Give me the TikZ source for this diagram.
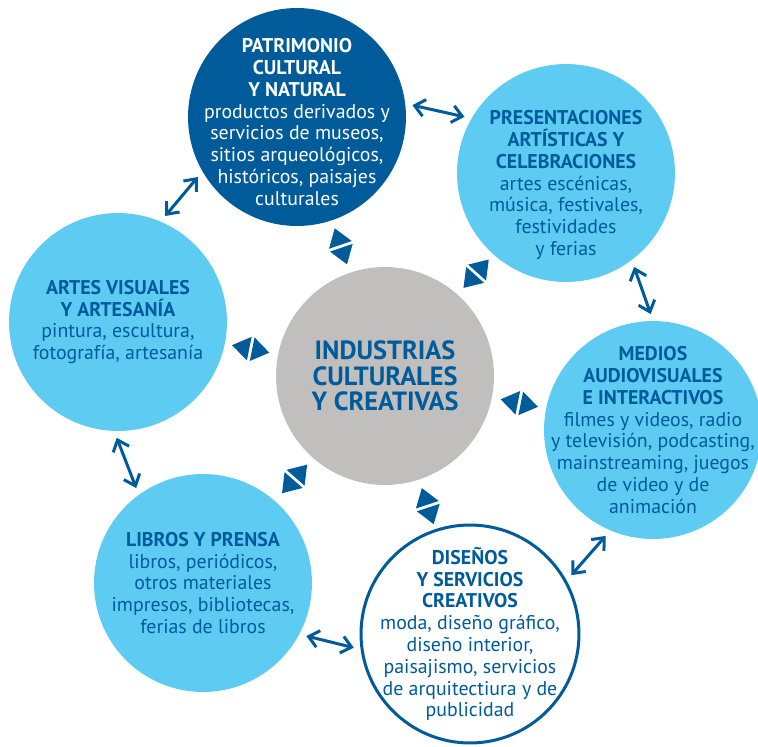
\documentclass[tikz,border=0pt]{standalone}
\usepackage{fontspec}
\setmainfont{PT Sans}
\usetikzlibrary{arrows.meta}
\definecolor{deepblue}{RGB}{0,91,155}
\definecolor{skyblue}{RGB}{94,203,243}
\definecolor{stone}{RGB}{192,191,190}
\newcommand*{\hd}[1]{\textbf{#1}}
\newcommand*{\linkmark}[1]{%
    \begin{scope}[shift={(cic.center)}, rotate=#1]
        \fill [deepblue] (138.5, -12) -- (156, 0) -- (138.5, 12) -- cycle;
        \fill [deepblue] (135.5, -12) -- (118, 0) -- (135.5, 12) -- cycle;
    \end{scope}%
}
\tikzstyle{bubble} = [circle, minimum size=4.36cm, inner sep=0pt]
\tikzstyle{field} = [bubble, fill=skyblue]
\tikzstyle{heritage} = [bubble, fill=deepblue]
\tikzstyle{design} = [bubble, draw=deepblue, line width=0.06cm, fill=white]
\tikzstyle{core} = [bubble, fill=stone]
\tikzstyle{caption} = [
    align=center,
    inner sep=0pt,
    text=deepblue,
    font=\fontsize{11.3}{12.4}\selectfont
]
\tikzstyle{core caption} = [caption, font=\fontsize{15}{14.4}\selectfont\bfseries]
\tikzstyle{link} = [
    {Straight Barb[length=0.2cm, width=0.34cm]}-{Straight Barb[length=0.2cm, width=0.34cm]},
    deepblue,
    line width=0.06cm,
    shorten <=0.14cm,
    shorten >=0.14cm
]

\begin{document}
\begin{tikzpicture}[x=0.02cm, y=0.02cm]
    \useasboundingbox (0, 0) rectangle (758, -747);

    % Circles.
    \node (cic) [core] at (385, -376) {};
    \node (patrimonio) [heritage] at (297, -117) {};
    \node (presentaciones) [field] at (566, -173) {};
    \node (medios) [field] at (653, -430) {};
    \node (disenos) [design] at (470, -634) {};
    \node (libros) [field] at (203, -583) {};
    \node (artes) [field] at (118, -322) {};

    % Texts.
    \node (cic text) [core caption] at (cic) {INDUSTRIAS\\ CULTURALES\\ Y CREATIVAS};
    \node (patrimonio text) [caption, text=white] at ([yshift=-0.1cm]patrimonio.center) {\hd{PATRIMONIO}\\ \hd{CULTURAL}\\ \hd{Y NATURAL}\\
        productos derivados y\\ servicios de museos,\\ sitios arqueológicos,\\ históricos, paisajes\\ culturales};
    \node (presentaciones text) [caption] at ([yshift=-0.24cm]presentaciones.center) {\hd{PRESENTACIONES}\\ \hd{ARTÍSTICAS Y}\\ \hd{CELEBRACIONES}\\
        artes escénicas,\\ música, festivales,\\ festividades\\ y ferias};
    \node (medios text) [caption] at (medios) {\hd{MEDIOS}\\ \hd{AUDIOVISUALES}\\ \hd{E INTERACTIVOS}\\
        filmes y videos, radio\\ y televisión, podcasting,\\ mainstreaming, juegos\\ de video y de\\ animación};
    \node (disenos text) [caption] at (disenos) {\hd{DISEÑOS}\\ \hd{Y SERVICIOS}\\ \hd{CREATIVOS}\\
        moda, diseño gráfico,\\ diseño interior,\\ paisajismo, servicios\\ de arquitectiura y de\\ publicidad};
    \node (libros text) [caption] at (libros) {\hd{LIBROS Y PRENSA}\\
        libros, periódicos,\\ otros materiales\\ impresos, bibliotecas,\\ ferias de libros};
    \node (artes text) [caption] at (artes) {\hd{ARTES VISUALES}\\ \hd{Y ARTESANÍA}\\
        pintura, escultura,\\ fotografía, artesanía};

    % Marks between the core and each field.
    \linkmark{108.8}
    \linkmark{48.3}
    \linkmark{-11.4}
    \linkmark{-71.8}
    \linkmark{228.7}
    \linkmark{168.6}

    % Paths.
    \draw [link] (artes.67) -- (patrimonio.210);
    \draw [link] (patrimonio.7) -- (presentaciones.150);
    \draw [link] (presentaciones.307) -- (medios.90);
    \draw [link] (medios.247) -- (disenos.29);
    \draw [link] (disenos.188) -- (libros.332);
    \draw [link] (libros.126) -- (artes.268);
\end{tikzpicture}
\end{document}
